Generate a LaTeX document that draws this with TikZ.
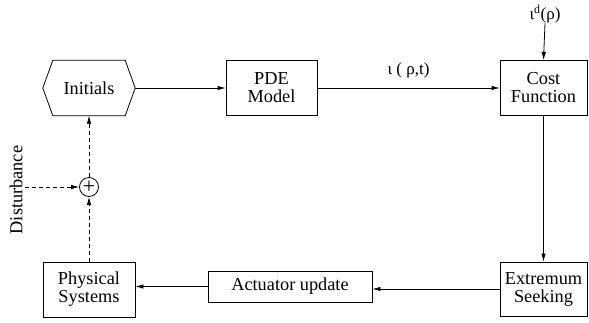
\documentclass[tikz,border=0pt]{standalone}
\usepackage{fontspec}
\setmainfont{Liberation Serif}
\usetikzlibrary{arrows.meta}
\begin{document}
\begin{tikzpicture}[x=1pt,y=-1pt,
  every node/.style={font=\fontsize{18.3}{18}\selectfont, inner sep=0pt, align=center},
  blk/.style={draw, line width=0.8pt, minimum height=55pt},
  conn/.style={line width=0.8pt, -{Latex[length=8pt,width=4.5pt]}},
  dconn/.style={conn, dash pattern=on 4pt off 3pt},
  lbl/.style={font=\fontsize{17}{17}\selectfont}]
\useasboundingbox (0,0) rectangle (589,322);
\node[minimum width=92pt, minimum height=55pt] (init) at (89,88) {Initials};
\draw[line width=0.8pt] (init.west) -- ([xshift=10pt]init.north west) -- ([xshift=-10pt]init.north east)
  -- (init.east) -- ([xshift=-10pt]init.south east) -- ([xshift=10pt]init.south west) -- cycle;
\node[blk, minimum width=91pt] (pde) at (271.5,88) {PDE\\Model};
\node[blk, minimum width=87pt] (cost) at (543.5,88) {Cost\\Function};
\node[blk, minimum width=87pt, minimum height=54pt] (ext) at (543.5,289) {Extremum\\Seeking};
\node[blk, minimum width=164pt, minimum height=31pt] (act) at (290,286.5) {Actuator update};
\node[blk, minimum width=92pt] (phys) at (89,289.5) {Physical\\Systems};
\node[draw, circle, line width=0.8pt, minimum size=19pt] (sum) at (89,187) {};
\node[font=\fontsize{22}{22}\selectfont] (plus) at (sum.center) {+};
\node[rotate=90] (dist) at (16,190) {Disturbance};
\node[lbl] (iotad) at (545,14) {ι\textsuperscript{d}(ρ)};
\coordinate (dstart) at (25,187);
\draw[conn] (init.east) -- (pde.west);
\draw[conn] (pde.east) -- node[lbl, above=9pt] {ι ( ρ,t)} (cost.west);
\draw[conn] (iotad.south) -- (cost.north);
\draw[conn] (cost.south) -- (ext.north);
\draw[conn] (ext.west) -- (ext.west -| act.east);
\draw[conn] (act.west) -- (act.west -| phys.east);
\draw[dconn] (phys.north) -- (sum.south);
\draw[dconn] (sum.north) -- (init.south);
\draw[dconn] (dstart) -- (sum.west);
\end{tikzpicture}
\end{document}
